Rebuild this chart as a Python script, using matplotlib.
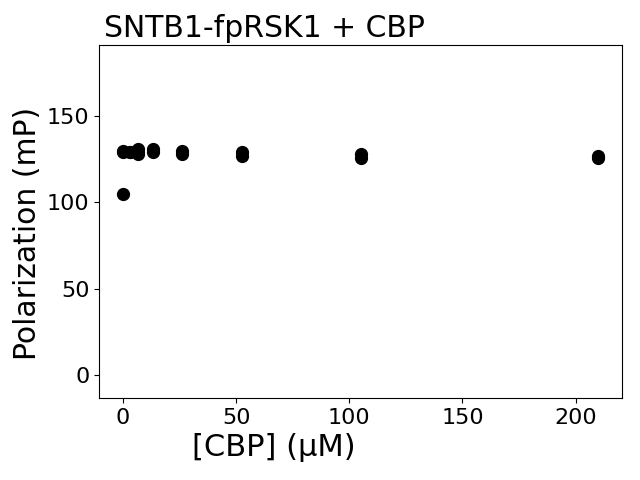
import matplotlib
matplotlib.use("Agg")
import matplotlib.pyplot as plt

# 浓度 (uM) 和偏振值 (mP)
conc = [0, 0, 0, 3.3, 3.3, 6.6, 6.6, 6.6, 13.1, 13.1, 26.25, 26.25,
        52.5, 52.5, 105, 105, 210, 210]
polarization = [130, 129, 105, 129, 129, 131, 129, 128, 131, 129, 130, 128,
                129, 127, 128, 126, 127, 125.5]

fig, ax = plt.subplots(figsize=(6.4, 4.8), dpi=100)
ax.plot(conc, polarization, 'o', color='black', markersize=8.5)
ax.set_ylim(-13, 191)
ax.set_title("SNTB1-fpRSK1 + CBP", loc='left', fontsize=21.5, x=0.01)
ax.set_xlabel("[CBP] (\u03bcM)", fontsize=22)
ax.set_ylabel("Polarization (mP)", fontsize=21.5)
ax.xaxis.set_label_coords(0.333, -0.1)
ax.yaxis.set_label_coords(-0.11, 0.467)
ax.tick_params(labelsize=16)
plt.subplots_adjust(left=0.155, right=0.972, top=0.906, bottom=0.171)
plt.savefig("out.png", dpi=100)
plt.close()
